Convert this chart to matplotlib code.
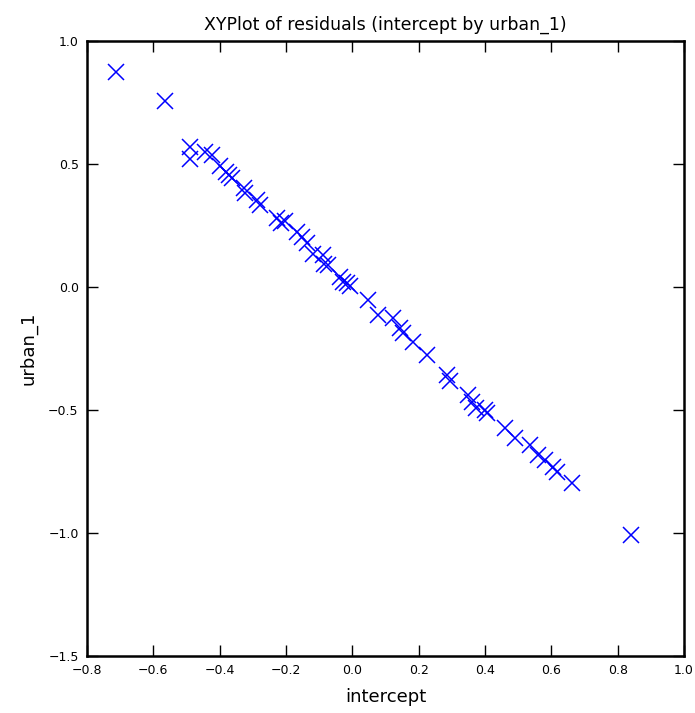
import matplotlib
matplotlib.use('Agg')
import matplotlib.pyplot as plt
import numpy as np

# residuals
intercept = [-0.713, -0.565, -0.490, -0.490, -0.444, -0.423, -0.399, -0.381,
             -0.372, -0.363, -0.327, -0.324, -0.288, -0.278, -0.227, -0.215,
             -0.203, -0.167, -0.152, -0.137, -0.119, -0.089, -0.086, -0.073,
             -0.037, -0.028, -0.016, -0.007, 0.047, 0.077, 0.123, 0.144,
             0.153, 0.183, 0.225, 0.285, 0.294, 0.349, 0.361, 0.373,
             0.400, 0.406, 0.460, 0.490, 0.536, 0.560, 0.581, 0.605,
             0.617, 0.662, 0.840]
urban_1 = [0.874, 0.756, 0.569, 0.520, 0.549, 0.537, 0.492, 0.467,
           0.455, 0.443, 0.402, 0.382, 0.354, 0.333, 0.280, 0.260,
           0.268, 0.224, 0.203, 0.179, 0.134, 0.130, 0.093, 0.089,
           0.041, 0.020, 0.016, 0.004, -0.053, -0.114, -0.126, -0.167,
           -0.187, -0.224, -0.276, -0.358, -0.382, -0.439, -0.467, -0.492,
           -0.500, -0.512, -0.573, -0.614, -0.642, -0.683, -0.703, -0.732,
           -0.752, -0.797, -1.008]

xticks = [-0.8, -0.6, -0.4, -0.2, 0.0, 0.2, 0.4, 0.6, 0.8, 1.0]
yticks = [-1.5, -1.0, -0.5, 0.0, 0.5, 1.0]

fig = plt.figure(figsize=(6.95, 7.13), dpi=100)
ax = fig.add_axes([0.1252, 0.080, 0.8590, 0.8625])

ax.plot(intercept, urban_1, linestyle='none', marker='x', color='blue',
        markersize=12, markeredgewidth=1.1)

ax.set_xlim(-0.8, 1.0)
ax.set_ylim(-1.5, 1.0)
ax.set_xticks(xticks)
ax.set_yticks(yticks)
ax.tick_params(direction='in', top=True, right=True, length=8, width=1,
               labelsize=9, pad=6)

for s in ax.spines.values():
    s.set_linewidth(1.8)

ax.set_title('XYPlot of residuals (intercept by urban_1)', fontsize=12.5, pad=8)
ax.set_xlabel('intercept', fontsize=13, labelpad=8)
ax.set_ylabel('urban_1', fontsize=13, labelpad=8)

fig.savefig('out.png', dpi=100)
